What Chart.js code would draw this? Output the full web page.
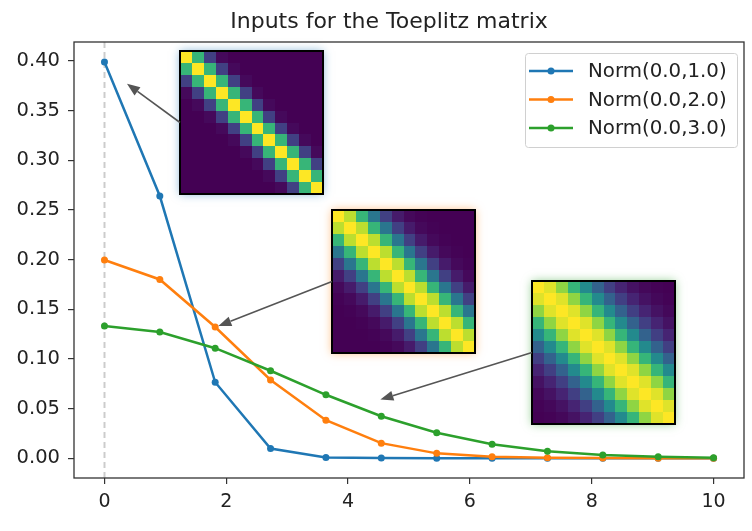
<!DOCTYPE html>
<html>
<head>
<meta charset="utf-8">
<script src="https://cdn.jsdelivr.net/npm/chart.js@4/dist/chart.umd.min.js"></script>
<style>
  body { margin: 0; background: #fff; }
  #box { width: 752px; height: 531px; }
</style>
</head>
<body>
<div id="box"><canvas id="myChart" width="752" height="531"></canvas></div>
<script>
// sample points (linspace 0..10, 12 points)
var xValues = [0, 0.909, 1.818, 2.727, 3.636, 4.545, 5.455, 6.364, 7.273, 8.182, 9.091, 10];
var norm1 = [0.3989, 0.2639, 0.0764, 0.0097, 0.00054, 0.000013, 0.0000001, 0, 0, 0, 0, 0];
var norm2 = [0.1995, 0.1799, 0.1320, 0.0787, 0.0382, 0.0151, 0.0048, 0.0013, 0.00027, 0.00005, 0.000007, 0.000001];
var norm3 = [0.1330, 0.1270, 0.1107, 0.0880, 0.0638, 0.0422, 0.0255, 0.0140, 0.0070, 0.0032, 0.0013, 0.0005];
var seriesLabels = ['Norm(0.0,1.0)', 'Norm(0.0,2.0)', 'Norm(0.0,3.0)'];
var xTicks = [0, 2, 4, 6, 8, 10];
var yTicks = [0, 0.05, 0.10, 0.15, 0.20, 0.25, 0.30, 0.35, 0.40];
var titleText = 'Inputs for the Toeplitz matrix';

var colors = ['#1f77b4', '#ff7f0e', '#2ca02c'];
var glows = ['rgba(31,119,180,0.55)', 'rgba(255,127,14,0.55)', 'rgba(44,160,44,0.55)'];
var seriesList = [norm1, norm2, norm3];

// where each matrix picture sits (top-left corner, data units) and where its arrow points
var insetCorners = [[1.24, 0.410], [3.736, 0.2497], [7.02, 0.178]];
var arrowHeads = [[0.37, 0.377], [1.87, 0.133], [4.53, 0.059]];
var insetSize = 143;

var fontName = '"DejaVu Sans", sans-serif';

// viridis colour stops
var viridisStops = ['#440154', '#472c7a', '#3b518b', '#2c718e', '#21908d', '#27ad81', '#5cc863', '#aadc32', '#fde725'];

function hexToRgb(h){
    return [parseInt(h.substr(1,2),16), parseInt(h.substr(3,2),16), parseInt(h.substr(5,2),16)];
}

function viridis(t){
    t = Math.max(0, Math.min(1, t));
    var pos = t * (viridisStops.length - 1);
    var k = Math.min(Math.floor(pos), viridisStops.length - 2);
    var f = pos - k;
    var a = hexToRgb(viridisStops[k]), b = hexToRgb(viridisStops[k+1]);
    var c = a.map(function(v, i){ return Math.round(v + (b[i] - v) * f); });
    return 'rgb(' + c[0] + ',' + c[1] + ',' + c[2] + ')';
}

function drawArrow(ctx, x1, y1, x2, y2){
    var ang = Math.atan2(y2 - y1, x2 - x1);
    var len = 13, half = 5;
    var bx = x2 - len * Math.cos(ang), by = y2 - len * Math.sin(ang);
    ctx.save();
    ctx.strokeStyle = '#555';
    ctx.fillStyle = '#555';
    ctx.lineWidth = 1.6;
    ctx.beginPath();
    ctx.moveTo(x1, y1);
    ctx.lineTo(bx, by);
    ctx.stroke();
    ctx.beginPath();
    ctx.moveTo(x2, y2);
    ctx.lineTo(bx + half * Math.sin(ang), by - half * Math.cos(ang));
    ctx.lineTo(bx - half * Math.sin(ang), by + half * Math.cos(ang));
    ctx.closePath();
    ctx.fill();
    ctx.restore();
}

// dashed line at x=0, drawn under the curves
var zeroLine = {
    id: 'zeroLine',
    beforeDatasetsDraw: function(chart){
        var ctx = chart.ctx, a = chart.chartArea;
        var x = Math.round(chart.scales.x.getPixelForValue(0)) + 0.5;
        ctx.save();
        ctx.strokeStyle = 'rgba(0,0,0,0.2)';
        ctx.lineWidth = 2;
        ctx.setLineDash([6, 4]);
        ctx.beginPath();
        ctx.moveTo(x, a.top);
        ctx.lineTo(x, a.bottom);
        ctx.stroke();
        ctx.restore();
    }
};

// toeplitz matrices as small heatmaps with arrows
var insets = {
    id: 'insets',
    afterDatasetsDraw: function(chart){
        var ctx = chart.ctx, xs = chart.scales.x, ys = chart.scales.y;
        seriesList.forEach(function(s, i){
            var x0 = Math.round(xs.getPixelForValue(insetCorners[i][0]));
            var y0 = Math.round(ys.getPixelForValue(insetCorners[i][1]));
            var n = s.length, size = insetSize;
            var vmax = Math.max.apply(null, s), vmin = Math.min.apply(null, s);

            ctx.save();
            ctx.shadowColor = glows[i];
            ctx.shadowBlur = 9;
            ctx.fillStyle = '#440154';
            ctx.fillRect(x0, y0, size, size);
            ctx.restore();

            for (var r = 0; r < n; r++){
                for (var c = 0; c < n; c++){
                    var v = s[Math.abs(r - c)];
                    var cx = Math.round(x0 + c * size / n), cy = Math.round(y0 + r * size / n);
                    var cx2 = Math.round(x0 + (c + 1) * size / n), cy2 = Math.round(y0 + (r + 1) * size / n);
                    ctx.fillStyle = viridis((v - vmin) / (vmax - vmin));
                    ctx.fillRect(cx, cy, cx2 - cx, cy2 - cy);
                }
            }
            ctx.save();
            ctx.strokeStyle = '#000';
            ctx.lineWidth = 2;
            ctx.strokeRect(x0, y0, size, size);
            ctx.restore();

            drawArrow(ctx, x0, y0 + size / 2,
                xs.getPixelForValue(arrowHeads[i][0]), ys.getPixelForValue(arrowHeads[i][1]));
        });
    }
};

// axes frame, legend and title
var decorations = {
    id: 'decorations',
    afterDraw: function(chart){
        var ctx = chart.ctx, a = chart.chartArea;
        ctx.save();
        ctx.strokeStyle = '#333';
        ctx.lineWidth = 1.3;
        ctx.strokeRect(a.left, a.top, a.right - a.left, a.bottom - a.top);

        // legend
        var lw = 212, lh = 94;
        var lx = a.right - 7 - lw, ly = a.top + 11;
        ctx.fillStyle = 'rgba(255,255,255,0.8)';
        ctx.strokeStyle = '#d0d0d0';
        ctx.lineWidth = 1;
        ctx.beginPath();
        ctx.roundRect(lx + 0.5, ly + 0.5, lw, lh, 3);
        ctx.fill();
        ctx.stroke();
        ctx.font = '19.8px ' + fontName;
        ctx.textBaseline = 'middle';
        ctx.textAlign = 'left';
        chart.data.datasets.forEach(function(ds, i){
            var y = ly + 18 + i * 28.5;
            ctx.strokeStyle = ds.borderColor;
            ctx.lineWidth = 2.5;
            ctx.beginPath();
            ctx.moveTo(lx + 4, y);
            ctx.lineTo(lx + 48, y);
            ctx.stroke();
            ctx.fillStyle = ds.borderColor;
            ctx.beginPath();
            ctx.arc(lx + 26, y, 3.5, 0, Math.PI * 2);
            ctx.fill();
            ctx.fillStyle = '#222';
            ctx.fillText(ds.label, lx + 63, y + 1);
        });

        // title
        ctx.font = '22px ' + fontName;
        ctx.textAlign = 'center';
        ctx.fillStyle = '#222';
        ctx.fillText(titleText, 389, 22);
        ctx.restore();
    }
};

var datasets = seriesList.map(function(s, i){
    return {
        label: seriesLabels[i],
        data: s.map(function(v, k){ return {x: xValues[k], y: v}; }),
        borderColor: colors[i],
        backgroundColor: colors[i],
        borderWidth: 2.5,
        pointRadius: 3.5,
        pointHoverRadius: 3.5,
        pointBorderWidth: 0,
        tension: 0,
        order: 2 - i
    };
});

var ctx = document.getElementById('myChart').getContext('2d');
var myMainChart = new Chart(ctx, {
    type: 'line',
    data: { datasets: datasets },
    options: {
        responsive: false,
        animation: false,
        devicePixelRatio: 1,
        layout: { padding: { top: 42, right: 8, left: 0, bottom: 0 } },
        scales: {
            x: {
                type: 'linear',
                min: -0.5,
                max: 10.5,
                afterBuildTicks: function(scale){ scale.ticks = xTicks.map(function(v){ return {value: v}; }); },
                afterFit: function(scale){ scale.height = 53; },
                grid: { drawOnChartArea: false, drawTicks: true, tickLength: 6, color: '#333', lineWidth: 1.2 },
                border: { display: false },
                ticks: {
                    color: '#222',
                    padding: 7,
                    maxRotation: 0,
                    font: { family: fontName, size: 19 },
                    callback: function(v){ return String(v); }
                }
            },
            y: {
                type: 'linear',
                min: -0.02,
                max: 0.419,
                afterBuildTicks: function(scale){ scale.ticks = yTicks.map(function(v){ return {value: v}; }); },
                afterFit: function(scale){ scale.width = 74; },
                grid: { drawOnChartArea: false, drawTicks: true, tickLength: 6, color: '#333', lineWidth: 1.2 },
                border: { display: false },
                ticks: {
                    color: '#222',
                    padding: 8,
                    font: { family: fontName, size: 19.5 },
                    callback: function(v){ return v.toFixed(2); }
                }
            }
        },
        plugins: {
            legend: { display: false },
            title: { display: false },
            tooltip: { enabled: false }
        }
    },
    plugins: [zeroLine, insets, decorations]
});
</script>
</body>
</html>
